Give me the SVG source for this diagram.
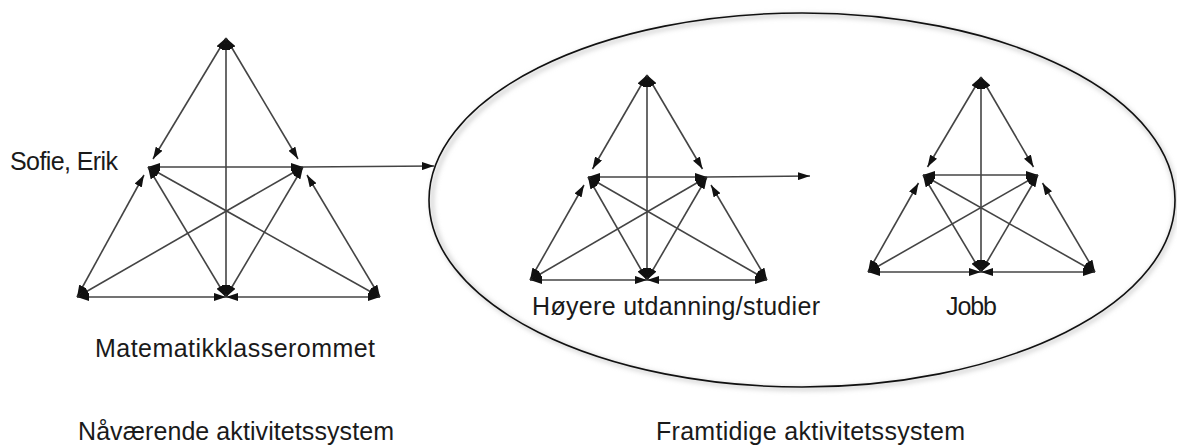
<svg xmlns="http://www.w3.org/2000/svg" width="1177" height="446" viewBox="0 0 1177 446">
<defs>
<marker id="ah" viewBox="0 0 12 8" refX="12" refY="4" markerWidth="12" markerHeight="8" markerUnits="userSpaceOnUse" orient="auto-start-reverse">
<path d="M0,0 L12,4 L0,8 z" fill="#111"/>
</marker>
<filter id="sh" x="-5%" y="-5%" width="110%" height="115%">
<feGaussianBlur stdDeviation="2.5"/>
</filter>
</defs>
<style>
.c line{stroke:#444;stroke-width:1.6;marker-start:url(#ah);marker-end:url(#ah)}
.a{stroke:#444;stroke-width:1.6;marker-end:url(#ah)}
text{font-family:"Liberation Sans",Arial,sans-serif;font-size:25px;fill:#1a1a1a}
</style>
<rect width="1177" height="446" fill="#fff"/>
<g id="ellipse">
<ellipse cx="804" cy="202" rx="372" ry="187" fill="none" stroke="#c4c4c4" stroke-width="3" filter="url(#sh)"/>
<ellipse cx="802" cy="200" rx="373" ry="187" fill="none" stroke="#111" stroke-width="1.6"/>
</g>
<g id="connectors">
<g id="tri-left" class="c">
<line x1="226" y1="38" x2="153" y2="159"/>
<line x1="226" y1="38" x2="298" y2="159"/>
<line x1="226" y1="38" x2="226" y2="297"/>
<line x1="148" y1="167" x2="303" y2="167"/>
<line x1="144" y1="175" x2="77" y2="297"/>
<line x1="307" y1="175" x2="380" y2="297"/>
<line x1="77" y1="297" x2="226" y2="297"/>
<line x1="226" y1="297" x2="380" y2="297"/>
<line x1="148" y1="167" x2="226" y2="297"/>
<line x1="303" y1="167" x2="226" y2="297"/>
<line x1="148" y1="167" x2="380" y2="297"/>
<line x1="303" y1="167" x2="77" y2="297"/>
</g>
<g id="tri-mid" class="c">
<line x1="647" y1="75" x2="592.5" y2="169"/>
<line x1="647" y1="75" x2="702.5" y2="169"/>
<line x1="647" y1="75" x2="647" y2="280"/>
<line x1="588" y1="177" x2="707" y2="177"/>
<line x1="584" y1="185" x2="530" y2="280"/>
<line x1="711" y1="185" x2="767" y2="280"/>
<line x1="530" y1="280" x2="647" y2="280"/>
<line x1="647" y1="280" x2="767" y2="280"/>
<line x1="588" y1="177" x2="647" y2="280"/>
<line x1="707" y1="177" x2="647" y2="280"/>
<line x1="588" y1="177" x2="767" y2="280"/>
<line x1="707" y1="177" x2="530" y2="280"/>
</g>
<g id="tri-right" class="c">
<line x1="981" y1="77" x2="927.5" y2="167"/>
<line x1="981" y1="77" x2="1033.5" y2="167"/>
<line x1="981" y1="77" x2="981" y2="272"/>
<line x1="923" y1="175" x2="1038" y2="175"/>
<line x1="918.5" y1="183" x2="868" y2="272"/>
<line x1="1042.5" y1="183" x2="1095" y2="272"/>
<line x1="868" y1="272" x2="981" y2="272"/>
<line x1="981" y1="272" x2="1095" y2="272"/>
<line x1="923" y1="175" x2="981" y2="272"/>
<line x1="1038" y1="175" x2="981" y2="272"/>
<line x1="923" y1="175" x2="1095" y2="272"/>
<line x1="1038" y1="175" x2="868" y2="272"/>
</g>
<line class="a" x1="303" y1="167" x2="434" y2="166"/>
<line class="a" x1="707" y1="177" x2="810" y2="176"/>
</g>
<g id="labels">
<text x="10" y="170" textLength="108" lengthAdjust="spacing">Sofie, Erik</text>
<text x="95" y="357" textLength="280" lengthAdjust="spacing">Matematikklasserommet</text>
<text x="532" y="315" textLength="288" lengthAdjust="spacing">Høyere utdanning/studier</text>
<text x="946" y="315" textLength="51" lengthAdjust="spacing">Jobb</text>
<text x="78" y="440" textLength="316" lengthAdjust="spacing">Nåværende aktivitetssystem</text>
<text x="656" y="440" textLength="309" lengthAdjust="spacing">Framtidige aktivitetssystem</text>
</g>
</svg>
